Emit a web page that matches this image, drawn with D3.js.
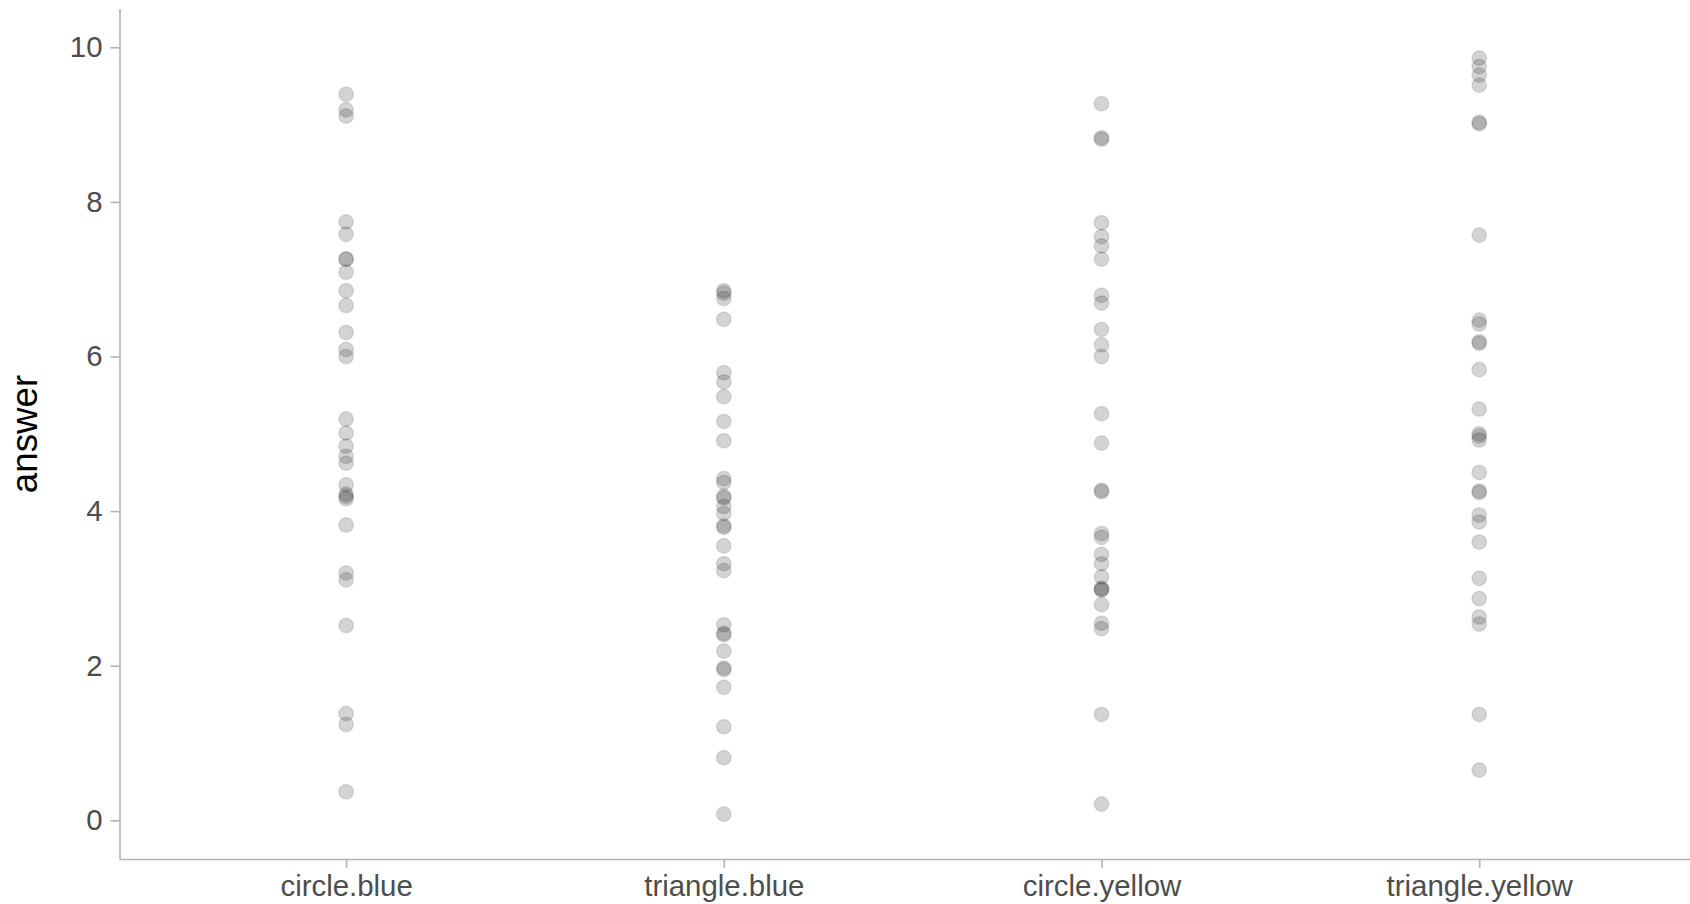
<!DOCTYPE html>
<html>
<head>
<meta charset="utf-8">
<script src="https://cdn.jsdelivr.net/npm/d3@7"></script>
<style>
  html, body { margin: 0; padding: 0; background: #ffffff; }
  svg { display: block; font-family: "Liberation Sans", Arial, Helvetica, sans-serif; }
</style>
</head>
<body>
<svg id="chart" width="1690" height="904"></svg>
<script>
// Groups along the x axis
const categories = ["circle.blue", "triangle.blue", "circle.yellow", "triangle.yellow"];

// Answers recorded in each group
const circleBlue = [9.39, 9.19, 9.11, 7.74, 7.58, 7.26, 7.26, 7.09, 6.85, 6.66, 6.31, 6.09, 6.00,
  5.19, 5.01, 4.84, 4.71, 4.62, 4.34, 4.22, 4.19, 4.16, 3.82, 3.20, 3.11, 2.52, 1.38, 1.24, 0.37];
const triangleBlue = [6.85, 6.82, 6.75, 6.48, 5.79, 5.67, 5.48, 5.16, 4.91, 4.42, 4.37, 4.19, 4.17,
  4.06, 3.97, 3.81, 3.79, 3.55, 3.32, 3.23, 2.53, 2.42, 2.40, 2.19, 1.97, 1.95, 1.72, 1.21, 0.81, 0.08];
const circleYellow = [9.27, 8.83, 8.81, 7.73, 7.55, 7.43, 7.26, 6.79, 6.69, 6.35, 6.15, 6.00, 5.26,
  4.88, 4.27, 4.25, 3.71, 3.66, 3.44, 3.32, 3.15, 3.00, 2.99, 2.98, 2.79, 2.55, 2.48, 1.37, 0.21];
const triangleYellow = [9.86, 9.75, 9.64, 9.51, 9.03, 9.01, 7.57, 6.47, 6.42, 6.19, 6.17, 5.83, 5.32,
  5.00, 4.97, 4.92, 4.50, 4.26, 4.24, 3.95, 3.86, 3.60, 3.13, 2.87, 2.63, 2.54, 1.37, 0.65];

const seriesValues = [circleBlue, triangleBlue, circleYellow, triangleYellow];

// Axis tick values
const yTicks = [0, 2, 4, 6, 8, 10];
const yDomain = [-0.5, 10.5];
const yLabel = "answer";

const svg = d3.select("#chart");

const panel = { left: 119.5, top: 8.6, bottom: 859 };
const step = 377.7;

const x = d3.scalePoint()
  .domain(categories)
  .range([panel.left, panel.left + 4.2 * step])
  .padding(0.6);

const y = d3.scaleLinear()
  .domain(yDomain)
  .range([panel.bottom, panel.top]);

const axisColor = "#b3b3b3";
const textColor = "#4d4d4d";

// Points
const points = categories.flatMap((c, i) => seriesValues[i].map(v => ({ c, v })));

svg.append("g")
  .selectAll("circle")
  .data(points)
  .join("circle")
  .attr("cx", d => x(d.c))
  .attr("cy", d => y(d.v))
  .attr("r", 7.3)
  .attr("fill", "#000")
  .attr("fill-opacity", 0.17)
  .attr("stroke", "#000")
  .attr("stroke-opacity", 0.1)
  .attr("stroke-width", 1.5);

// Y axis
const yAxis = svg.append("g")
  .attr("transform", `translate(${panel.left},0)`)
  .call(d3.axisLeft(y).tickValues(yTicks).tickFormat(d3.format("d"))
    .tickSize(9).tickSizeOuter(0).tickPadding(8));

// X axis
const xAxis = svg.append("g")
  .attr("transform", `translate(0,${panel.bottom})`)
  .call(d3.axisBottom(x).tickSize(9).tickSizeOuter(0).tickPadding(7));

[yAxis, xAxis].forEach(g => {
  g.select(".domain").attr("stroke", axisColor).attr("stroke-width", 1.6);
  g.selectAll(".tick line").attr("stroke", axisColor).attr("stroke-width", 1.6);
  g.selectAll(".tick text")
    .attr("fill", textColor)
    .style("font-size", "29.4px")
    .style("font-family", "'Liberation Sans', Arial, sans-serif");
});

// Y axis title
svg.append("text")
  .attr("transform", `translate(37,434) rotate(-90)`)
  .attr("text-anchor", "middle")
  .attr("fill", "#000")
  .style("font-size", "36.7px")
  .text(yLabel);
</script>
</body>
</html>
